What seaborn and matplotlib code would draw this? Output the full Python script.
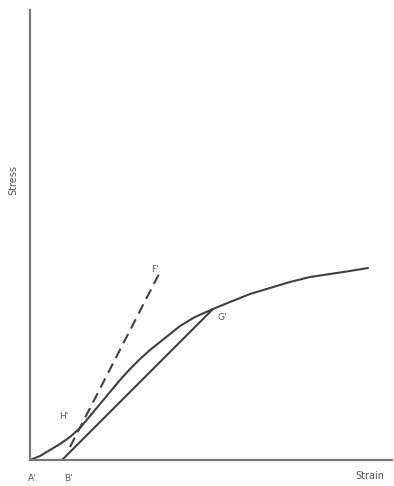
import matplotlib
matplotlib.use("Agg")
import matplotlib.pyplot as plt
import seaborn as sns

# Loading curve (stress vs strain), arbitrary units
curve_strain = [0, 10, 20, 30, 40, 50, 60, 70, 80, 90, 100, 110, 120, 135, 150,
                165, 183, 200, 220, 240, 260, 280, 300, 320, 338]
curve_stress = [0, 4, 10, 16, 23, 32, 44, 56, 68, 80, 91, 101, 110, 122, 134,
                143, 151, 158, 166, 172, 178, 183, 186, 189, 192]

# Unloading line B'G'
unload_strain = [32, 183]
unload_stress = [0, 151]

# Dashed line through H' to F'
tangent_strain = [40, 130]
tangent_stress = [13, 188]

# Point labels
point_names = ["A'", "B'", "H'", "G'", "F'"]
point_x = [2, 38, 34, 192, 125]
point_y = [-18, -18, 44, 142, 190]

sns.set_style("white")
plt.rcParams["font.family"] = ["DejaVu Sans"]

fig = plt.figure(figsize=(3.94, 4.86), dpi=100)
ax = fig.add_axes([30 / 394, 26 / 486, 362 / 394, 450 / 486])

line_col = "#404040"
sns.lineplot(x=curve_strain, y=curve_stress, ax=ax, color=line_col, lw=1.5, sort=False)
sns.lineplot(x=unload_strain, y=unload_stress, ax=ax, color=line_col, lw=1.5, sort=False)
sns.lineplot(x=tangent_strain, y=tangent_stress, ax=ax, color=line_col, lw=1.5,
             sort=False, dashes=False, linestyle=(0, (5, 3)))

ax.set_xlim(0, 362)
ax.set_ylim(0, 450)
ax.set_xticks([])
ax.set_yticks([])
for side in ["top", "right"]:
    ax.spines[side].set_visible(False)
for side in ["left", "bottom"]:
    ax.spines[side].set_color("#7a7a7a")
    ax.spines[side].set_linewidth(1.6)

for name, px, py in zip(point_names, point_x, point_y):
    ax.text(px, py, name, fontsize=6.5, color="#555555", ha="center", va="center",
            clip_on=False)

ax.set_ylabel("Stress", fontsize=7, color="#555555")
ax.yaxis.set_label_coords(-12 / 362, 0.622)
ax.set_xlabel("Strain", fontsize=7, color="#555555")
ax.xaxis.set_label_coords(0.94, -0.025)

fig.savefig("out.png", dpi=100)
